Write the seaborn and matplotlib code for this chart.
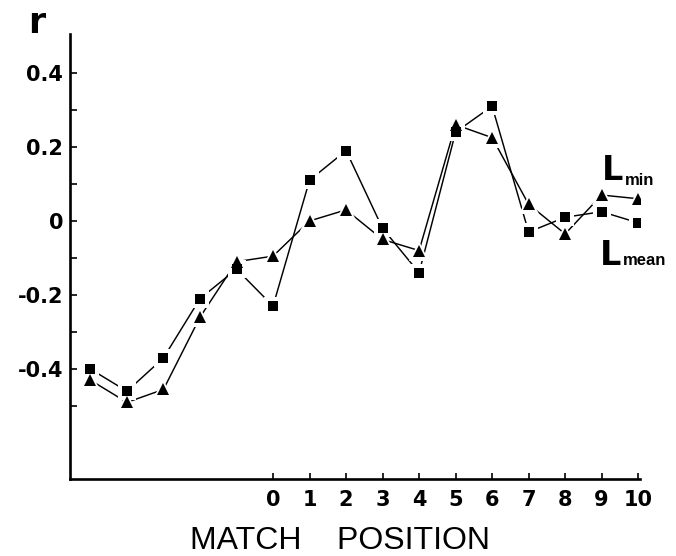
import matplotlib
matplotlib.use("Agg")
import matplotlib.pyplot as plt
import seaborn as sns
import pandas as pd
from matplotlib.ticker import FixedLocator, FixedFormatter

# ---- data ----
positions = [-5, -4, -3, -2, -1, 0, 1, 2, 3, 4, 5, 6, 7, 8, 9, 10]
r_mean = [-0.40, -0.46, -0.37, -0.21, -0.13, -0.23, 0.11, 0.19, -0.02, -0.14,
          0.24, 0.31, -0.03, 0.01, 0.025, -0.005]
r_min = [-0.43, -0.49, -0.455, -0.26, -0.11, -0.095, 0.00, 0.03, -0.05, -0.08,
         0.26, 0.225, 0.045, -0.035, 0.07, 0.06]
x_ticks = [0, 1, 2, 3, 4, 5, 6, 7, 8, 9, 10]
x_tick_labels = ["0", "1", "2", "3", "4", "5", "6", "7", "8", "9", "10"]
y_major = [-0.4, -0.2, 0.0, 0.2, 0.4]
y_major_labels = ["-0.4", "-0.2", "0", "0.2", "0.4"]
y_minor = [-0.5, -0.3, -0.1, 0.1, 0.3]

df = pd.DataFrame({
    "pos": positions * 2,
    "r": r_mean + r_min,
    "series": ["Lmean"] * len(positions) + ["Lmin"] * len(positions),
})
mean_df = df[df.series == "Lmean"]
min_df = df[df.series == "Lmin"]

sns.set_style("ticks")
plt.rcParams["font.family"] = ["DejaVu Sans"]
plt.rcParams["text.color"] = "black"
plt.rcParams["axes.labelcolor"] = "black"

fig = plt.figure(figsize=(6.76, 5.56), dpi=100)
ax = fig.add_axes([70 / 676, (556 - 479) / 556, 570 / 676, 445 / 556])

# lines
sns.lineplot(data=df, x="pos", y="r", units="series", estimator=None,
             color="black", linewidth=1.05, ax=ax, legend=False, sort=False)
# white halos (gap between line and marker)
sns.lineplot(data=mean_df, x="pos", y="r", color="white", linestyle="none",
             marker="s", markersize=12.5, markeredgewidth=0, ax=ax, legend=False)
sns.lineplot(data=min_df, x="pos", y="r", color="white", linestyle="none",
             marker="^", markersize=14.0, markeredgewidth=0, ax=ax, legend=False)
# black markers
sns.lineplot(data=mean_df, x="pos", y="r", color="black", linestyle="none",
             marker="s", markersize=7.2, markeredgewidth=0, ax=ax, legend=False)
sns.lineplot(data=min_df, x="pos", y="r", color="black", linestyle="none",
             marker="^", markersize=8.3, markeredgewidth=0, ax=ax, legend=False)

ax.set_xlim(-5.56, 10.05)
ax.set_ylim(-0.697, 0.505)

for s in ["top", "right"]:
    ax.spines[s].set_visible(False)
for s in ["left", "bottom"]:
    ax.spines[s].set_linewidth(1.9)
    ax.spines[s].set_color("black")

ax.xaxis.set_major_locator(FixedLocator(x_ticks))
ax.xaxis.set_major_formatter(FixedFormatter(x_tick_labels))
ax.yaxis.set_major_locator(FixedLocator(y_major))
ax.yaxis.set_major_formatter(FixedFormatter(y_major_labels))
ax.yaxis.set_minor_locator(FixedLocator(y_minor))

ax.tick_params(axis="x", direction="in", length=4.5, width=1.2, pad=8,
               labelsize=15, colors="black")
ax.tick_params(axis="y", which="both", direction="in", length=5, width=1.2,
               pad=5, labelsize=15, colors="black")
for lab in ax.get_xticklabels() + ax.get_yticklabels():
    lab.set_fontweight("bold")

ax.set_xlabel("MATCH    POSITION", fontsize=23, family="Liberation Sans",
              fontweight="normal", color="black")
ax.xaxis.set_label_coords((340 - 70) / 570, -(549 - 479) / 445)
ax.xaxis.label.set_va("baseline")

ax.set_ylabel("r", rotation=0, fontsize=25, fontweight="bold", color="black")
ax.yaxis.set_label_coords((37 - 70) / 570, (479 - 33) / 445)
ax.yaxis.label.set_va("baseline")
ax.yaxis.label.set_ha("center")

# series labels
ax.text(9.01, 0.111, "L", fontsize=24, fontweight="bold", ha="left",
        va="baseline", color="black")
ax.text(9.64, 0.097, "min", fontsize=12, fontweight="bold", family="Liberation Sans",
        ha="left", va="baseline", color="black")
ax.text(8.96, -0.119, "L", fontsize=24, fontweight="bold", ha="left",
        va="baseline", color="black")
ax.text(9.59, -0.119, "mean", fontsize=12, fontweight="bold", family="Liberation Sans",
        ha="left", va="baseline", color="black")

fig.savefig("out.png", dpi=100, facecolor="white")
